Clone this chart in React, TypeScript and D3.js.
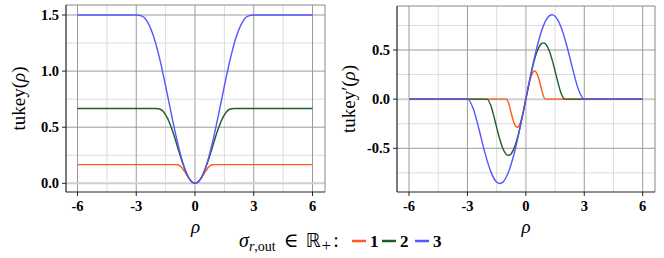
import React from "react";
import * as d3 from "d3";

// ---- data ----
const sigmas = [1, 2, 3];
const seriesColors = ["#ff5a1e", "#1c5e2c", "#5656ff"];

const rho1 = [-6, -1, -0.9, -0.8, -0.7, -0.6, -0.5, -0.45, -0.4, -0.3, -0.2, -0.1, 0, 0.1, 0.2, 0.3, 0.4, 0.45, 0.5, 0.6, 0.7, 0.8, 0.9, 1, 6];
const rho2 = [-6, -2, -1.8, -1.6, -1.4, -1.2, -1.0, -0.9, -0.8, -0.6, -0.4, -0.2, 0, 0.2, 0.4, 0.6, 0.8, 0.9, 1.0, 1.2, 1.4, 1.6, 1.8, 2, 6];
const rho3 = [-6, -3, -2.7, -2.4, -2.1, -1.8, -1.5, -1.35, -1.2, -0.9, -0.6, -0.3, 0, 0.3, 0.6, 0.9, 1.2, 1.35, 1.5, 1.8, 2.1, 2.4, 2.7, 3, 6];

const tukey1 = [0.1667, 0.1667, 0.1655, 0.1589, 0.1446, 0.123, 0.0964, 0.0821, 0.0679, 0.0411, 0.0192, 0.005, 0, 0.005, 0.0192, 0.0411, 0.0679, 0.0821, 0.0964, 0.123, 0.1446, 0.1589, 0.1655, 0.1667, 0.1667];
const tukey2 = [0.6667, 0.6667, 0.6621, 0.6356, 0.5782, 0.4919, 0.3854, 0.3285, 0.2715, 0.1643, 0.0768, 0.0198, 0, 0.0198, 0.0768, 0.1643, 0.2715, 0.3285, 0.3854, 0.4919, 0.5782, 0.6356, 0.6621, 0.6667, 0.6667];
const tukey3 = [1.5, 1.5, 1.4897, 1.43, 1.301, 1.1068, 0.8672, 0.7392, 0.6109, 0.3696, 0.1729, 0.0446, 0, 0.0446, 0.1729, 0.3696, 0.6109, 0.7392, 0.8672, 1.1068, 1.301, 1.43, 1.4897, 1.5, 1.5];

const dtukey1 = [0, 0, -0.0325, -0.1037, -0.1821, -0.2458, -0.2813, -0.2862, -0.2822, -0.2484, -0.1843, -0.098, 0, 0.098, 0.1843, 0.2484, 0.2822, 0.2862, 0.2813, 0.2458, 0.1821, 0.1037, 0.0325, 0, 0];
const dtukey2 = [0, 0, -0.065, -0.2074, -0.3641, -0.4915, -0.5625, -0.5724, -0.5645, -0.4969, -0.3686, -0.196, 0, 0.196, 0.3686, 0.4969, 0.5645, 0.5724, 0.5625, 0.4915, 0.3641, 0.2074, 0.065, 0, 0];
const dtukey3 = [0, 0, -0.0975, -0.311, -0.5462, -0.7373, -0.8438, -0.8586, -0.8467, -0.7453, -0.553, -0.294, 0, 0.294, 0.553, 0.7453, 0.8467, 0.8586, 0.8438, 0.7373, 0.5462, 0.311, 0.0975, 0, 0];

const xTicks = [-6, -3, 0, 3, 6];
const xTickLabels = ["-6", "-3", "0", "3", "6"];
const xMinor = [-4.5, -1.5, 1.5, 4.5];
const leftYTicks = [0, 0.5, 1.0, 1.5];
const leftYTickLabels = ["0.0", "0.5", "1.0", "1.5"];
const leftYMinor = [0.25, 0.75, 1.25];
const rightYTicks = [-0.5, 0, 0.5];
const rightYTickLabels = ["-0.5", "0.0", "0.5"];
const rightYMinor = [-0.75, -0.25, 0.25, 0.75];

const rhos = [rho1, rho2, rho3];
const tukeys = [tukey1, tukey2, tukey3];
const dtukeys = [dtukey1, dtukey2, dtukey3];

const SERIF = "'Liberation Serif', 'DejaVu Serif', serif";

type PanelProps = {
  frame: [number, number, number, number];
  xRange: [number, number];
  yDomain: [number, number];
  yRange: [number, number];
  yTicks: number[];
  yTickLabels: string[];
  yMinor: number[];
  ys: number[][];
  title: React.ReactNode;
  titleX: number;
};

function Panel({ frame, xRange, yDomain, yRange, yTicks, yTickLabels, yMinor, ys, title, titleX }: PanelProps) {
  const [fx0, fy0, fx1, fy1] = frame;
  const x = d3.scaleLinear().domain([-6, 6]).range(xRange);
  const y = d3.scaleLinear().domain(yDomain).range(yRange);
  const line = d3
    .line<[number, number]>()
    .x((d) => x(d[0]))
    .y((d) => y(d[1]))
    .curve(d3.curveMonotoneX);
  const cx = (fx0 + fx1) / 2;
  const cy = (fy0 + fy1) / 2;
  return (
    <g>
      {xMinor.map((v) => (
        <line key={"xm" + v} x1={x(v)} x2={x(v)} y1={fy0} y2={fy1} stroke="#dcdcdc" strokeWidth={1} />
      ))}
      {yMinor.map((v) => (
        <line key={"ym" + v} x1={fx0} x2={fx1} y1={y(v)} y2={y(v)} stroke="#dcdcdc" strokeWidth={1} />
      ))}
      {xTicks.map((v) => (
        <line
          key={"xM" + v}
          x1={x(v)}
          x2={x(v)}
          y1={fy0}
          y2={fy1}
          stroke={v === 0 ? "#cfcfcf" : "#9a9a9a"}
          strokeWidth={v === 0 ? 2 : 1}
        />
      ))}
      {yTicks.map((v) => (
        <line
          key={"yM" + v}
          x1={fx0}
          x2={fx1}
          y1={y(v)}
          y2={y(v)}
          stroke={v === 0 ? "#cfcfcf" : "#9a9a9a"}
          strokeWidth={v === 0 ? 2 : 1}
        />
      ))}
      <line x1={fx0} x2={fx1} y1={fy0} y2={fy0} stroke="#888" strokeWidth={1} />
      <line x1={fx1} x2={fx1} y1={fy0} y2={fy1} stroke="#888" strokeWidth={1} />
      <line x1={fx0} x2={fx0} y1={fy0} y2={fy1} stroke="#222" strokeWidth={1.2} />
      <line x1={fx0} x2={fx1} y1={fy1} y2={fy1} stroke="#222" strokeWidth={1.2} />
      {ys.map((vals, i) => (
        <path
          key={"s" + i}
          d={line(rhos[i].map((r, j) => [r, vals[j]] as [number, number])) || ""}
          fill="none"
          stroke={seriesColors[i]}
          strokeWidth={1.4}
        />
      ))}
      {xTicks.map((v, i) => (
        <g key={"xt" + v}>
          <line x1={x(v)} x2={x(v)} y1={fy1} y2={fy1 + 4} stroke="#222" />
          <text x={x(v)} y={fy1 + 19} textAnchor="middle" fontFamily={SERIF} fontWeight="bold" fontSize={14.5}>
            {xTickLabels[i]}
          </text>
        </g>
      ))}
      {yTicks.map((v, i) => (
        <g key={"yt" + v}>
          <line x1={fx0 - 4} x2={fx0} y1={y(v)} y2={y(v)} stroke="#222" />
          <text x={fx0 - 7} y={y(v) + 5} textAnchor="end" fontFamily={SERIF} fontWeight="bold" fontSize={14.5}>
            {yTickLabels[i]}
          </text>
        </g>
      ))}
      <text x={cx} y={233} textAnchor="middle" fontFamily={SERIF} fontStyle="italic" fontSize={19}>
        ρ
      </text>
      <text
        transform={`translate(${titleX},${cy}) rotate(-90)`}
        textAnchor="middle"
        fontFamily={SERIF}
        fontSize={19}
      >
        {title}
      </text>
    </g>
  );
}

export default function App() {
  const legendItems = [
    { x: 352, label: "1" },
    { x: 382, label: "2" },
    { x: 415, label: "3" },
  ];
  return (
    <svg width={664} height={258} style={{ position: "absolute", left: 0, top: 0, background: "#fff" }}>
      <rect width={664} height={258} fill="#fff" />
      <Panel
        frame={[66, 5, 325, 192]}
        xRange={[77.5, 312.5]}
        yDomain={[0, 1.5]}
        yRange={[183.3, 15]}
        yTicks={leftYTicks}
        yTickLabels={leftYTickLabels}
        yMinor={leftYMinor}
        ys={tukeys}
        titleX={25}
        title={
          <>
            tukey(<tspan fontStyle="italic">ρ</tspan>)
          </>
        }
      />
      <Panel
        frame={[397, 6, 655, 192]}
        xRange={[409, 642.7]}
        yDomain={[-0.5, 0.5]}
        yRange={[148.3, 50]}
        yTicks={rightYTicks}
        yTickLabels={rightYTickLabels}
        yMinor={rightYMinor}
        ys={dtukeys}
        titleX={355}
        title={
          <>
            tukey′(<tspan fontStyle="italic">ρ</tspan>)
          </>
        }
      />
      <text x={239} y={247} fontFamily={SERIF} fontSize={20}>
        <tspan fontStyle="italic">σ</tspan>
        <tspan fontSize={14} dy={4} fontStyle="italic">r</tspan>
        <tspan fontSize={14}>,out</tspan>
        <tspan dy={-4} dx={8}>∈</tspan>
        <tspan dx={7} fontFamily="'DejaVu Sans', sans-serif" fontSize={19}>ℝ</tspan>
        <tspan fontSize={17} dy={4} dx={1}>+</tspan>
        <tspan dy={-4} dx={2}>:</tspan>
      </text>
      {legendItems.map((it, i) => (
        <g key={"lg" + i}>
          <line x1={it.x} x2={it.x + 14} y1={241} y2={241} stroke={seriesColors[i]} strokeWidth={2.5} />
          <text x={it.x + 18} y={247} fontFamily={SERIF} fontWeight="bold" fontSize={17}>
            {it.label}
          </text>
        </g>
      ))}
    </svg>
  );
}
